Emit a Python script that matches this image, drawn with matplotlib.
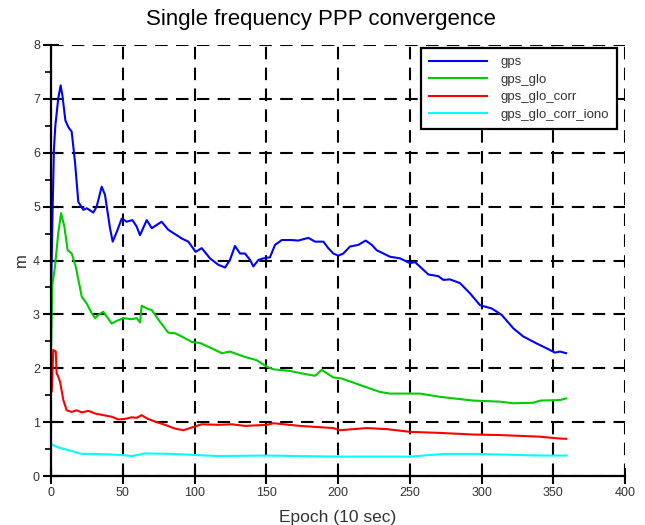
import matplotlib
matplotlib.use("Agg")
import matplotlib.pyplot as plt
from matplotlib.ticker import MultipleLocator

plt.rcParams['font.family'] = ['Liberation Sans', 'DejaVu Sans']

# values (epoch, metres)
gps_x = [0, 1, 2, 3, 5, 6.7, 8, 10, 12, 14.4, 16.7, 19, 22.5, 24.9, 29.5, 31.8, 35.3,
         37.6, 41.1, 43, 45.8, 49.3, 52.7, 56.7, 59.7, 62, 66.7, 70.2, 77.1, 81.7, 87.6,
         91, 95.7, 100.8, 105, 110.8, 116.6, 121.3, 124.7, 128.2, 131.7, 135.2, 138.7,
         141, 144.5, 148, 152.6, 156.1, 160.8, 167.7, 172.3, 179.3, 184, 189.8, 193.2,
         196.7, 200.2, 203.7, 208.4, 214.1, 219.3, 223.5, 227, 236.2, 243.2, 250.2,
         253.7, 263, 269.9, 273.4, 278, 285, 292, 299, 307.1, 314.1, 322.2, 329.1,
         338.4, 345.4, 351.2, 354.7, 358.9]
gps_y = [3.4, 4.8, 6.05, 6.5, 7.0, 7.25, 7.05, 6.6, 6.48, 6.39, 5.83, 5.09, 4.94, 4.97,
         4.89, 5.0, 5.37, 5.22, 4.6, 4.35, 4.53, 4.78, 4.72, 4.75, 4.63, 4.47, 4.75, 4.6,
         4.72, 4.57, 4.47, 4.41, 4.35, 4.16, 4.23, 4.04, 3.92, 3.87, 4.01, 4.27, 4.13,
         4.13, 4.01, 3.89, 4.01, 4.04, 4.06, 4.29, 4.38, 4.38, 4.37, 4.42, 4.35, 4.35,
         4.23, 4.13, 4.09, 4.13, 4.26, 4.29, 4.37, 4.29, 4.19, 4.07, 4.04, 3.95, 3.97,
         3.74, 3.71, 3.64, 3.65, 3.58, 3.39, 3.17, 3.11, 2.99, 2.74, 2.59, 2.46, 2.37,
         2.29, 2.31, 2.28]

glo_x = [0, 0.9, 2.8, 5, 7, 9.3, 11.6, 14.4, 17.2, 21.4, 24.9, 28.4, 30.7, 33, 36.4,
         38.8, 42.3, 45.8, 50.4, 56.2, 59.7, 62, 63.2, 66.7, 70.2, 76, 81.7, 86.4, 91,
         98, 103.8, 112, 119, 124.7, 135.2, 143.3, 150.3, 155, 166.6, 173.5, 184,
         188.6, 196.7, 202.6, 215.3, 229.3, 236.2, 257.1, 271, 294.3, 312.9, 322.2,
         336.1, 340.8, 354.7, 358.9]
glo_y = [2.3, 3.55, 3.89, 4.5, 4.88, 4.63, 4.19, 4.13, 3.89, 3.33, 3.2, 3.02, 2.93, 2.99,
         3.05, 2.96, 2.83, 2.88, 2.93, 2.91, 2.93, 2.85, 3.16, 3.11, 3.08, 2.86, 2.66,
         2.65, 2.59, 2.49, 2.47, 2.37, 2.28, 2.31, 2.21, 2.15, 2.03, 1.98, 1.95, 1.91,
         1.86, 1.97, 1.83, 1.81, 1.69, 1.56, 1.53, 1.53, 1.47, 1.4, 1.38, 1.35, 1.36,
         1.4, 1.41, 1.44]

corr_x = [0, 0.5, 1.6, 3.3, 3.9, 5.1, 6.3, 8.6, 10.9, 14.4, 17.9, 21.4, 26, 30.7, 36.4,
          42.3, 46.9, 51.6, 56.2, 59.7, 63.2, 66.7, 72.5, 79.4, 86.4, 92.2, 98, 105,
          116.6, 125.9, 135.2, 150.3, 155, 173.5, 196.7, 201.4, 220, 233.9, 250.2, 271,
          294.3, 312.9, 340.8, 352.4, 358.9]
corr_y = [1.55, 1.57, 2.34, 2.31, 1.91, 1.84, 1.75, 1.41, 1.22, 1.19, 1.22, 1.18, 1.21,
          1.16, 1.13, 1.1, 1.05, 1.06, 1.09, 1.08, 1.13, 1.07, 1.01, 0.95, 0.88, 0.85,
          0.9, 0.96, 0.95, 0.96, 0.93, 0.95, 0.98, 0.93, 0.89, 0.85, 0.89, 0.87, 0.82,
          0.8, 0.77, 0.76, 0.73, 0.7, 0.69]

iono_x = [0, 0.9, 5.1, 12, 21.4, 30.7, 49.3, 56.2, 65.5, 84.1, 116.6, 150, 173.5, 203.7,
          250.2, 273.4, 296.5, 340.8, 358.9]
iono_y = [0.58, 0.58, 0.53, 0.48, 0.41, 0.41, 0.39, 0.37, 0.42, 0.41, 0.37, 0.38, 0.37,
          0.36, 0.36, 0.41, 0.41, 0.38, 0.38]

fig = plt.figure(figsize=(6.45, 5.25), dpi=100)
ax = fig.add_axes([0.0791, 0.0933, 0.8899, 0.8210])

ax.plot(gps_x, gps_y, color='#0000ff', lw=1.5, label='gps')
ax.plot(glo_x, glo_y, color='#00cc00', lw=1.5, label='gps_glo')
ax.plot(corr_x, corr_y, color='#ff0000', lw=1.5, label='gps_glo_corr')
ax.plot(iono_x, iono_y, color='#00ffff', lw=1.5, label='gps_glo_corr_iono')

ax.set_xlim(0, 400)
ax.set_ylim(0, 8)
ax.xaxis.set_major_locator(MultipleLocator(50))
ax.yaxis.set_major_locator(MultipleLocator(1))
ax.yaxis.set_minor_locator(MultipleLocator(0.5))

ax.grid(True, which='major', color='black', lw=1.5, linestyle=(0, (6, 4)))
ax.spines['top'].set_visible(False)
ax.spines['right'].set_visible(False)
ax.spines['left'].set_linewidth(1.6)
ax.spines['bottom'].set_linewidth(1.6)

ax.tick_params(which='major', direction='inout', length=12, width=1.5,
               labelsize=9, labelcolor='#333333', pad=2)
ax.tick_params(which='minor', direction='out', length=4, width=1.2)

# title is centred on the figure, not the axes
fig.text(0.497, 0.962, 'Single frequency PPP convergence', fontsize=16,
         ha='center', va='center')
ax.set_xlabel('Epoch (10 sec)', fontsize=12.5, color='#333333', labelpad=8)
ax.set_ylabel('m', fontsize=12, color='#333333', labelpad=3)

leg = ax.legend(loc='upper right', bbox_to_anchor=(0.986, 0.993), borderaxespad=0,
                fontsize=9.5, handlelength=4.4, handletextpad=1.0, labelspacing=0.4,
                fancybox=False, framealpha=1, edgecolor='black', borderpad=0.6)
leg.get_frame().set_linewidth(1.6)
for t in leg.get_texts():
    t.set_color('#333333')

fig.savefig('out.png', dpi=100)
